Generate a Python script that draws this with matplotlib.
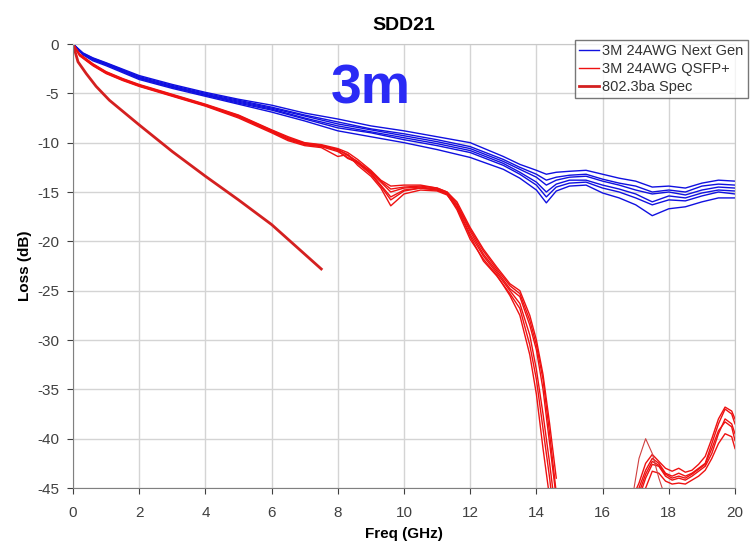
import numpy as np
import matplotlib.pyplot as plt

plt.rcParams['font.family'] = ['Liberation Sans', 'DejaVu Sans']
plt.rcParams['axes.unicode_minus'] = False

# frequency grids (GHz)
f_blue = [0, 0.3, 0.6, 1, 2, 3, 4, 5, 6, 7, 8, 9, 10, 11, 12, 13, 13.5, 14, 14.3,
          14.6, 15, 15.5, 16, 16.5, 17, 17.5, 18, 18.5, 19, 19.5, 20]
f_red = [0, 0.2, 0.6, 1, 1.5, 2, 3, 4, 5, 6, 6.5, 7, 7.5, 8, 8.3, 8.6, 9, 9.3, 9.6,
         10, 10.5, 11, 11.3, 11.6, 12, 12.4, 12.8, 13.2, 13.5, 13.8, 14.0, 14.2, 14.4, 14.6]
f_red_hi = [16.9, 17.1, 17.3, 17.5, 17.7, 17.9, 18.1, 18.3, 18.5, 18.7, 18.9, 19.1,
            19.3, 19.5, 19.7, 19.9, 20.0]
f_peak = [16.9, 17.1, 17.3, 17.5, 17.7, 17.9]
f_spec = [0, 0.15, 0.4, 0.7, 1.1, 2, 3, 4, 5, 6, 7.5]

# 3M 24AWG Next Gen (dB)
b1 = [0, -0.9, -1.4, -1.9, -3.2, -4.1, -4.9, -5.6, -6.2, -7.0, -7.6, -8.3, -8.8, -9.4, -10.0, -11.4,
      -12.2, -12.8, -13.2, -13.0, -12.9, -12.8, -13.2, -13.6, -13.9, -14.5, -14.4, -14.6, -14.1, -13.8, -13.9]
b2 = [0, -1.0, -1.5, -2.0, -3.4, -4.3, -5.1, -5.8, -6.5, -7.3, -8.1, -8.7, -9.3, -9.9, -10.6, -11.9,
      -12.7, -13.5, -14.3, -13.8, -13.5, -13.4, -13.9, -14.3, -14.8, -15.2, -15.0, -15.3, -14.8, -14.5, -14.6]
b3 = [0, -1.0, -1.6, -2.1, -3.5, -4.4, -5.2, -6.0, -6.7, -7.6, -8.5, -9.0, -9.7, -10.3, -11.0, -12.3,
      -13.2, -14.3, -15.5, -14.5, -14.1, -14.0, -14.6, -15.0, -15.6, -16.3, -15.8, -15.9, -15.4, -15.0, -15.2]
b4 = [0, -1.1, -1.7, -2.2, -3.6, -4.5, -5.3, -6.1, -6.9, -7.8, -8.8, -9.4, -10.0, -10.7, -11.5, -12.7,
      -13.6, -14.8, -16.1, -14.9, -14.4, -14.3, -15.1, -15.6, -16.3, -17.4, -16.7, -16.5, -16.0, -15.6, -15.6]
b5 = [0, -0.95, -1.45, -1.95, -3.3, -4.2, -5.0, -5.7, -6.4, -7.2, -7.9, -8.6, -9.1, -9.7, -10.4, -11.7,
      -12.5, -13.2, -13.8, -13.5, -13.3, -13.2, -13.7, -14.1, -14.4, -15.0, -14.8, -15.0, -14.4, -14.2, -14.3]
b6 = [0, -1.05, -1.55, -2.05, -3.45, -4.35, -5.15, -5.9, -6.6, -7.5, -8.3, -8.9, -9.5, -10.1, -10.8, -12.1,
      -13.0, -14.0, -15.0, -14.2, -13.8, -13.8, -14.3, -14.7, -15.2, -16.0, -15.4, -15.6, -15.1, -14.8, -14.9]

# 3M 24AWG QSFP+ (dB)
r1 = [0, -1.1, -2.1, -2.9, -3.6, -4.2, -5.2, -6.2, -7.3, -8.8, -9.6, -10.1, -10.3, -10.7, -11.3, -11.9, -13.0,
      -14.0, -15.0, -14.6, -14.5, -14.7, -15.1, -16.3, -19.0, -21.3, -23.0, -24.8, -25.6, -28.5, -31.0, -35.0, -40.5, -46]
r2 = [0, -1.2, -2.2, -3.0, -3.7, -4.3, -5.3, -6.3, -7.5, -9.0, -9.8, -10.3, -10.5, -11.4, -11.2, -12.3, -13.4,
      -14.6, -16.4, -15.2, -14.8, -14.9, -15.3, -16.6, -19.5, -22.0, -23.5, -25.3, -26.8, -30.5, -34.0, -39.0, -44.0, -50]
r3 = [0, -1.0, -2.0, -2.8, -3.5, -4.1, -5.1, -6.1, -7.2, -8.7, -9.4, -10.0, -10.2, -10.6, -11.0, -11.7, -12.8,
      -13.8, -14.4, -14.3, -14.3, -14.6, -15.0, -16.0, -18.6, -20.8, -22.6, -24.3, -25.0, -27.5, -30.0, -33.5, -38.5, -44]
r4 = [0, -1.15, -2.15, -2.95, -3.65, -4.25, -5.25, -6.25, -7.4, -8.9, -9.7, -10.2, -10.4, -10.9, -11.5, -12.1, -13.2,
      -14.4, -15.8, -14.9, -14.6, -14.8, -15.2, -16.8, -19.8, -21.8, -23.4, -25.5, -27.5, -31.5, -35.5, -41.0, -46.0, -52]
r5 = [0, -1.05, -2.05, -2.85, -3.55, -4.15, -5.15, -6.15, -7.25, -8.75, -9.5, -10.05, -10.25, -10.8, -11.6, -12.0, -12.9,
      -13.9, -14.7, -14.5, -14.4, -14.6, -15.0, -16.2, -18.8, -21.0, -22.8, -24.5, -25.3, -28.0, -30.5, -34.0, -39.5, -45.5]
r6 = [0, -1.1, -2.1, -2.9, -3.6, -4.2, -5.2, -6.2, -7.35, -8.85, -9.65, -10.15, -10.35, -10.7, -11.2, -12.0, -13.1,
      -14.3, -15.5, -14.8, -14.6, -14.8, -15.2, -16.5, -19.3, -21.5, -23.2, -25.0, -26.3, -29.5, -33.0, -37.5, -42.5, -48]

# QSFP+ traces coming back above -45 dB at high frequency
h1 = [-47, -45, -43.2, -42.0, -42.5, -43.5, -43.8, -43.5, -43.8, -43.5, -43.0, -42.5, -40.5, -38.5, -37.0, -37.5, -38.5]
h2 = [-48, -46, -44.0, -42.6, -42.8, -43.8, -44.2, -44.0, -44.2, -43.8, -43.3, -42.8, -41.5, -39.5, -38.0, -38.5, -39.5]
h3 = [-49, -47, -45.0, -43.3, -43.5, -44.3, -44.6, -44.5, -44.6, -44.2, -43.8, -43.2, -42.0, -40.5, -39.5, -39.8, -41.0]
h4 = [-46, -44.5, -42.5, -41.6, -42.3, -43.0, -43.3, -43.0, -43.4, -43.2, -42.6, -41.8, -40.0, -38.0, -36.8, -37.2, -38.0]
h5 = [-47.5, -45.5, -43.6, -42.3, -42.7, -43.6, -44.0, -43.8, -44.0, -43.6, -43.1, -42.6, -41.0, -39.2, -38.3, -38.8, -40.2]
peak = [-46, -42, -40, -41.5, -44, -46]

# 802.3ba spec (dB)
spec = [0, -1.8, -3.0, -4.3, -5.7, -8.2, -10.9, -13.4, -15.8, -18.3, -22.8]

blue_traces = [b1, b2, b3, b4, b5, b6]
red_traces = [r1, r2, r3, r4, r5, r6]
red_hi = [h1, h2, h3, h4, h5]

fig = plt.figure(figsize=(7.55, 5.44), dpi=100)
ax = fig.add_axes([73/755, 1-488/544, (735-73)/755, (488-44)/544])

blue = '#1010e0'
red = '#ee1111'
for i, tr in enumerate(blue_traces):
    ax.plot(f_blue, tr, color=blue, lw=1.0, label='3M 24AWG Next Gen' if i == 0 else None)
for i, tr in enumerate(red_traces):
    ax.plot(f_red, tr, color=red, lw=1.0, label='3M 24AWG QSFP+' if i == 0 else None)
for tr in red_hi:
    ax.plot(f_red_hi, tr, color=red, lw=1.0)
ax.plot(f_peak, peak, color='#d04040', lw=0.8)
ax.plot(f_spec, spec, color='#d42020', lw=2.0, label='802.3ba Spec')

ax.set_xlim(0, 20)
ax.set_ylim(-45, 0)
ax.set_xticks(np.arange(0, 21, 2))
ax.set_yticks(np.arange(-45, 1, 5))
ax.grid(True, color='#d4d4d4', lw=1)
ax.set_axisbelow(True)
ax.tick_params(labelsize=11, colors='#404040', length=4)
ax.tick_params(axis='x', pad=9)
ax.tick_params(axis='y', pad=6)
for s in ['top', 'right']:
    ax.spines[s].set_color('#c8c8c8')
for s in ['left', 'bottom']:
    ax.spines[s].set_color('#808080')

ax.set_xlabel('Freq (GHz)', fontsize=11, fontweight='bold', labelpad=5)
ax.set_ylabel('Loss (dB)', fontsize=11, fontweight='bold', labelpad=4)
ax.set_title('SDD21', fontsize=14, fontweight='bold', pad=10)

ax.text(9.0, -4.6, '3m', color='#2a2af5', fontsize=40, fontweight='bold',
        ha='center', va='center')

leg = ax.legend(loc='upper right', bbox_to_anchor=(748/755, 1-40/544),
                bbox_transform=fig.transFigure, fontsize=10.5, frameon=True,
                fancybox=False, handlelength=1.4, handletextpad=0.2,
                borderaxespad=0, labelspacing=0.25, borderpad=0.3)
leg.get_frame().set_edgecolor('#555555')
leg.get_frame().set_linewidth(1.0)
for t in leg.get_texts():
    t.set_color('#333333')

fig.savefig('out.png', dpi=100)
